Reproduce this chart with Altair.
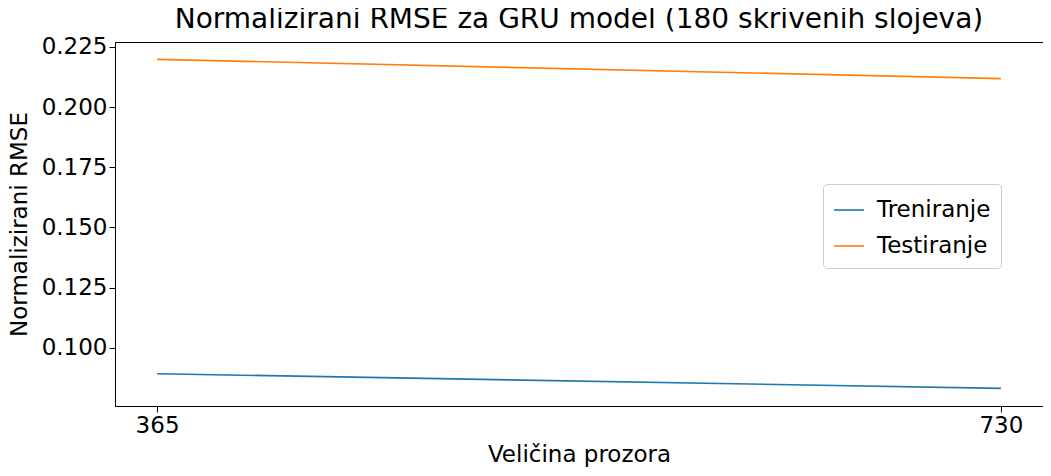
import altair as alt
import pandas as pd

window = [365, 730]
train = [0.0893, 0.0832]
test = [0.2198, 0.2118]

df = pd.DataFrame(
    {
        "window": window * 2,
        "rmse": train + test,
        "series": ["Treniranje"] * 2 + ["Testiranje"] * 2,
    }
)

font = "DejaVu Sans"
chart = (
    alt.Chart(df)
    .mark_line(strokeWidth=1.6, clip=True)
    .encode(
        x=alt.X(
            "window:Q",
            title="Veličina prozora",
            scale=alt.Scale(domain=[346.8, 748.2], nice=False, zero=False),
            axis=alt.Axis(values=window, format="d"),
        ),
        y=alt.Y(
            "rmse:Q",
            title="Normalizirani RMSE",
            scale=alt.Scale(domain=[0.0759, 0.227], nice=False, zero=False),
            axis=alt.Axis(values=[0.1, 0.125, 0.15, 0.175, 0.2, 0.225], format=".3f"),
        ),
        color=alt.Color(
            "series:N",
            title=None,
            sort=["Treniranje", "Testiranje"],
            scale=alt.Scale(domain=["Treniranje", "Testiranje"], range=["#1f77b4", "#ff7f0e"]),
            legend=alt.Legend(
                orient="none",
                legendX=708,
                legendY=142,
                symbolType="stroke",
                symbolSize=900,
                symbolStrokeWidth=1.6,
                labelFontSize=23,
                labelFont=font,
                padding=10,
                strokeColor="#cccccc",
                fillColor="white",
                cornerRadius=4,
                rowPadding=8,
                labelOffset=12,
            ),
        ),
    )
    .properties(
        width=928,
        height=364,
        title=alt.Title(
            "Normalizirani RMSE za GRU model (180 skrivenih slojeva)",
            fontSize=28,
            font=font,
            fontWeight="normal",
            offset=2,
        ),
        autosize=alt.AutoSizeParams(type="none"),
        padding={"left": 107, "top": 34, "right": 0, "bottom": 62},
    )
    .configure_axis(
        labelFont=font,
        titleFont=font,
        labelFontSize=23,
        titleFontSize=23,
        titleFontWeight="normal",
        labelColor="black",
        titleColor="black",
        domainColor="black",
        tickColor="black",
        tickSize=6,
        grid=False,
    )
    .configure_axisY(titlePadding=10)
    .configure_axisX(titlePadding=6)
    .configure_view(stroke="black", strokeWidth=1)
)

chart.save("out.html", embed_options={"renderer": "svg", "actions": False})
